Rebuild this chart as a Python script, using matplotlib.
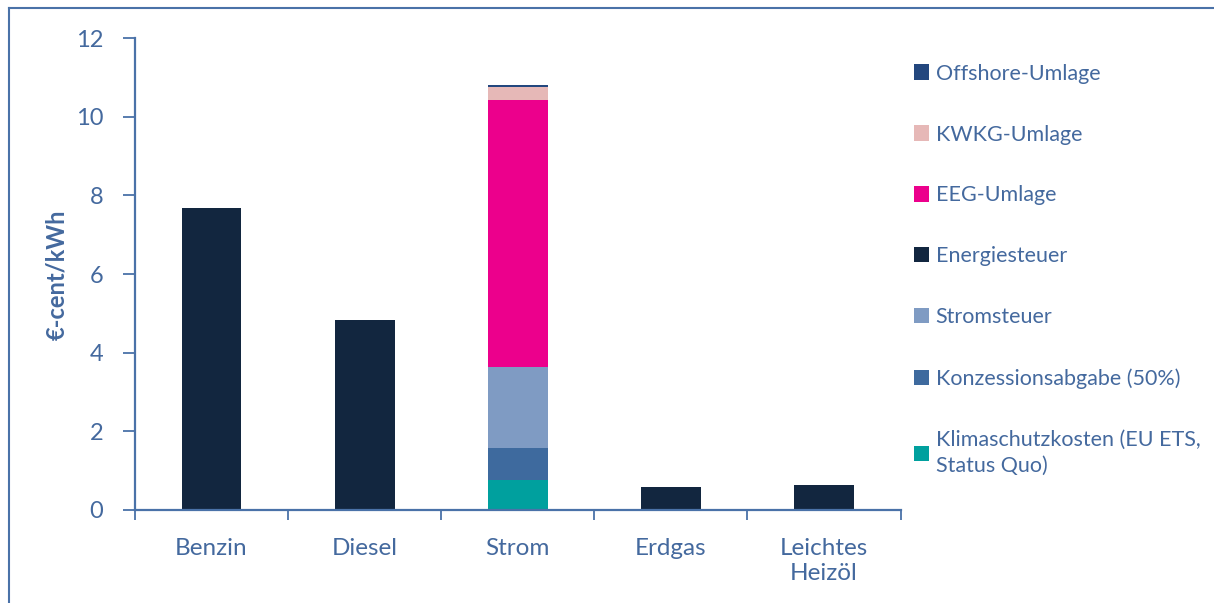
import matplotlib
matplotlib.use("Agg")
import matplotlib.pyplot as plt
from matplotlib.patches import Patch
from matplotlib.lines import Line2D
import numpy as np

categories = ["Benzin", "Diesel", "Strom", "Erdgas", "Leichtes\nHeizöl"]
klimaschutz = [0, 0, 0.76, 0, 0]
konzession = [0, 0, 0.82, 0.03, 0]
stromsteuer = [0, 0, 2.05, 0, 0]
energiesteuer = [7.68, 4.83, 0, 0.56, 0.63]
eeg = [0, 0, 6.79, 0, 0]
kwkg = [0, 0, 0.33, 0, 0]
offshore = [0, 0, 0.05, 0, 0]

series = [
    ("Klimaschutzkosten (EU ETS,\nStatus Quo)", klimaschutz, "#00A09E"),
    ("Konzessionsabgabe (50%)", konzession, "#3E6A9E"),
    ("Stromsteuer", stromsteuer, "#7F9BC3"),
    ("Energiesteuer", energiesteuer, "#12263F"),
    ("EEG-Umlage", eeg, "#EC008C"),
    ("KWKG-Umlage", kwkg, "#E6B8B7"),
    ("Offshore-Umlage", offshore, "#23477E"),
]

axc = "#4A72A8"
txc = "#44699E"
plt.rcParams['font.family'] = ['Lato', 'DejaVu Sans']

fig = plt.figure(figsize=(12.14, 6.03), dpi=100)
ax = fig.add_axes([135/1214, 1-510/603, (900.5-135)/1214, (510-38)/603])

x = np.arange(len(categories))
bottom = np.zeros(len(categories))
for name, vals, col in series:
    v = np.array(vals, dtype=float)
    ax.bar(x, v, width=0.39, bottom=bottom, color=col, edgecolor='none', zorder=2)
    bottom += v

ax.set_xlim(-0.5, 4.5)
ax.set_ylim(0, 12)
ax.set_yticks([0, 2, 4, 6, 8, 10, 12])
ax.tick_params(axis='y', colors=axc, labelcolor=txc, labelsize=17, length=9, width=1.3, pad=14, direction='out')
ax.set_xticks(np.arange(-0.5, 5, 1))
ax.set_xticklabels([])
ax.set_xticks(x, minor=True)
ax.set_xticklabels(categories, minor=True, fontsize=17.5, color=txc, linespacing=1.25)
ax.tick_params(axis='x', which='major', colors=axc, length=7, width=1.3, direction='out')
ax.tick_params(axis='x', which='minor', length=0, pad=20)
for s in ['top', 'right']:
    ax.spines[s].set_visible(False)
for s in ['left', 'bottom']:
    ax.spines[s].set_color(axc)
    ax.spines[s].set_linewidth(1.6)
ax.set_ylabel("€-cent/kWh", fontsize=17, fontweight='bold', color=txc)
ax.yaxis.set_label_coords(-0.087, (510-275)/472)

handles = [Patch(facecolor=c, edgecolor='none') for _, _, c in series][::-1]
labels = [n for n, _, _ in series][::-1]
leg = fig.legend(handles, labels, loc='upper left', bbox_to_anchor=(905/1214, 1-55/603),
                 frameon=False, fontsize=15.5, labelcolor=txc, handlelength=0.72, handleheight=0.72,
                 handletextpad=0.3, labelspacing=1.9, borderaxespad=0)
for t in leg.get_texts():
    t.set_linespacing(1.4)

# outer frame (left and top edges visible)
fig.add_artist(Line2D([9/1214, 9/1214], [0, 1-8/603], transform=fig.transFigure, color=axc, lw=1.5))
fig.add_artist(Line2D([9/1214, 1], [1-8/603, 1-8/603], transform=fig.transFigure, color=axc, lw=1.5))

fig.savefig("out.png", dpi=100)
